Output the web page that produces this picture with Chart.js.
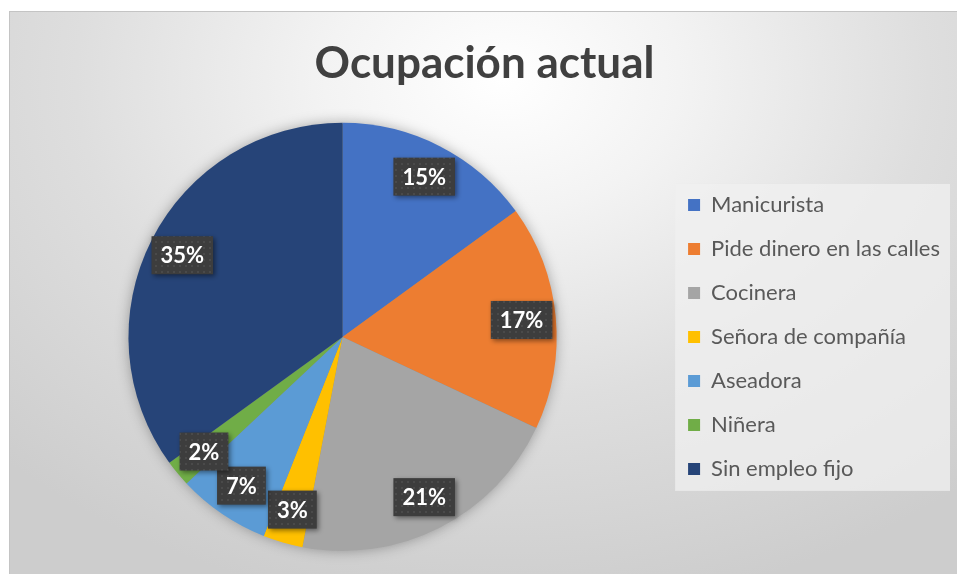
<!DOCTYPE html>
<html>
<head>
<meta charset="utf-8">
<script src="https://cdn.jsdelivr.net/npm/chart.js@4.4.1/dist/chart.umd.min.js"></script>
<style>
  html, body { margin: 0; padding: 0; background: #ffffff; }
  body { width: 957px; height: 574px; position: relative; overflow: hidden; }
  #frame {
    position: absolute; left: 9px; top: 11px; width: 948px; height: 563px;
    box-sizing: border-box; border-top: 1px solid #c4c4c4; border-left: 1px solid #c4c4c4;
    background: radial-gradient(ellipse 75% 95% at 52% 12%, #ffffff 0%, #f3f3f3 25%, #dedede 60%, #cdcdcd 100%);
  }
  #wrap { position: absolute; left: 9px; top: 11px; width: 948px; height: 563px; }
</style>
</head>
<body>
<div id="frame"></div>
<div id="wrap"><canvas id="c" width="948" height="563"></canvas></div>
<script>
const categories = ["Manicurista", "Pide dinero en las calles", "Cocinera", "Señora de compañía", "Aseadora", "Niñera", "Sin empleo fijo"];
const percentages = [15, 17, 21, 3, 7, 2, 35];
const sliceColors = ["#4472C4", "#ED7D31", "#A5A5A5", "#FFC000", "#5B9BD5", "#70AD47", "#264478"];
const chartTitle = "Ocupación actual";

function makePattern(ctx) {
  const p = document.createElement('canvas');
  p.width = 6; p.height = 6;
  const pc = p.getContext('2d');
  pc.fillStyle = '#3d3d3d';
  pc.fillRect(0, 0, 6, 6);
  pc.fillStyle = '#4a4a4a';
  pc.fillRect(2, 2, 2, 2);
  return ctx.createPattern(p, 'repeat');
}

const legendBg = {
  id: 'legendBg',
  beforeDraw(chart) {
    const lg = chart.legend;
    if (!lg || !lg.legendHitBoxes || !lg.legendHitBoxes.length) return;
    const hb = lg.legendHitBoxes;
    let left = Infinity, right = -Infinity;
    hb.forEach(h => { left = Math.min(left, h.left); right = Math.max(right, h.left + h.width); });
    const first = hb[0], last = hb[hb.length - 1];
    const top = first.top + first.height / 2 - 21;
    const bottom = last.top + last.height / 2 + 22;
    const ctx = chart.ctx;
    ctx.save();
    ctx.fillStyle = 'rgba(240,240,240,0.75)';
    ctx.fillRect(left - 13, top, right - left + 23, bottom - top);
    ctx.restore();
  }
};

const pieShadow = {
  id: 'pieShadow',
  beforeDatasetsDraw(chart) {
    const arc = chart.getDatasetMeta(0).data[0];
    if (!arc) return;
    const {x, y, outerRadius} = arc.getProps(['x', 'y', 'outerRadius'], true);
    const ctx = chart.ctx;
    ctx.save();
    ctx.shadowColor = 'rgba(0,0,0,0.35)';
    ctx.shadowBlur = 14;
    ctx.shadowOffsetX = 0;
    ctx.shadowOffsetY = 0;
    ctx.fillStyle = '#888';
    ctx.beginPath();
    ctx.arc(x, y, outerRadius - 1, 0, Math.PI * 2);
    ctx.fill();
    ctx.restore();
  }
};

const pctLabels = {
  id: 'pctLabels',
  afterDatasetsDraw(chart) {
    const ctx = chart.ctx;
    const meta = chart.getDatasetMeta(0);
    const vals = chart.data.datasets[0].data;
    const total = vals.reduce((a, b) => a + b, 0);
    const pattern = makePattern(ctx);
    meta.data.forEach((arc, i) => {
      const {x, y, startAngle, endAngle, outerRadius} = arc.getProps(['x', 'y', 'startAngle', 'endAngle', 'outerRadius'], true);
      const mid = (startAngle + endAngle) / 2;
      const r = outerRadius * 0.84;
      const cx = x + Math.cos(mid) * r;
      const cy = y + Math.sin(mid) * r;
      const text = Math.round(vals[i] / total * 100) + '%';
      ctx.save();
      ctx.font = 'bold 22px Lato';
      const tw = ctx.measureText(text).width;
      const bw = tw + 18, bh = 38;
      ctx.shadowColor = 'rgba(0,0,0,0.45)';
      ctx.shadowBlur = 5;
      ctx.shadowOffsetX = 2;
      ctx.shadowOffsetY = 2;
      ctx.fillStyle = pattern;
      ctx.fillRect(cx - bw / 2, cy - bh / 2, bw, bh);
      ctx.shadowColor = 'transparent';
      ctx.fillStyle = '#ffffff';
      ctx.textAlign = 'center';
      ctx.textBaseline = 'middle';
      ctx.fillText(text, cx, cy + 1);
      ctx.restore();
    });
  }
};

new Chart(document.getElementById('c'), {
  type: 'pie',
  data: {
    labels: categories,
    datasets: [{
      data: percentages,
      backgroundColor: sliceColors,
      borderWidth: 0
    }]
  },
  options: {
    responsive: false,
    animation: false,
    events: [],
    layout: { padding: { left: 10, right: 7, top: 0, bottom: 23 } },
    plugins: {
      title: {
        display: true,
        text: chartTitle,
        color: '#404040',
        font: { family: 'Lato', size: 44, weight: 'bold', lineHeight: 1.2 },
        padding: { top: 26, bottom: 33 }
      },
      legend: {
        position: 'right',
        fullSize: false,
        labels: {
          boxWidth: 12,
          boxHeight: 12,
          padding: 22,
          color: '#595959',
          font: { family: 'Lato', size: 22 }
        }
      },
      tooltip: { enabled: false }
    }
  },
  plugins: [legendBg, pieShadow, pctLabels]
});
</script>
</body>
</html>
